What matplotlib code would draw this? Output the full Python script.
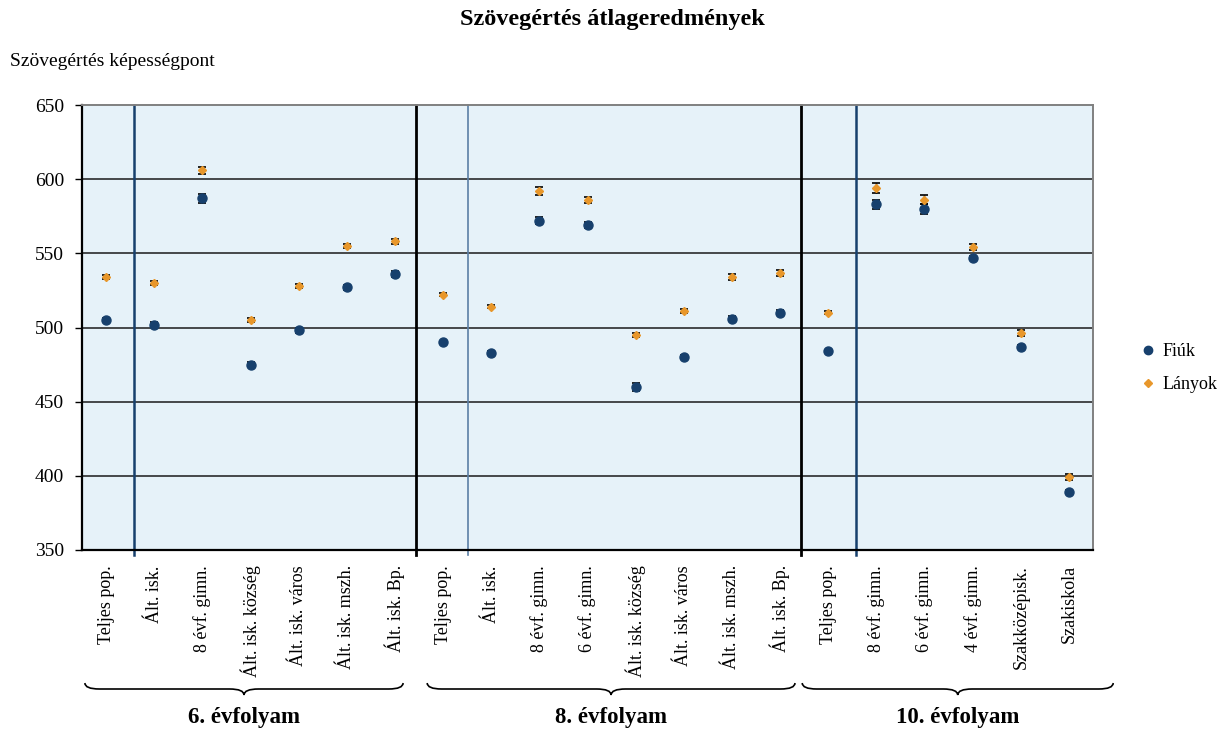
import numpy as np
import matplotlib.pyplot as plt
from matplotlib.path import Path
from matplotlib.patches import PathPatch
from matplotlib.lines import Line2D
import matplotlib.transforms as mtransforms

plt.rcParams['font.family'] = ['Liberation Serif', 'DejaVu Serif']

# Data
categories = [
    'Teljes pop.', 'Ált. isk.', '8 évf. gimn.', 'Ált. isk. község', 'Ált. isk. város',
    'Ált. isk. mszh.', 'Ált. isk. Bp.',
    'Teljes pop.', 'Ált. isk.', '8 évf. gimn.', '6 évf. gimn.', 'Ált. isk. község',
    'Ált. isk. város', 'Ált. isk. mszh.', 'Ált. isk. Bp.',
    'Teljes pop.', '8 évf. gimn.', '6 évf. gimn.', '4 évf. gimn.', 'Szakközépisk.', 'Szakiskola',
]
fiuk = [505, 502, 587, 475, 498, 527, 536,
        490, 483, 572, 569, 460, 480, 506, 510,
        484, 583, 580, 547, 487, 389]
lanyok = [534, 530, 606, 505, 528, 555, 558,
          522, 514, 592, 586, 495, 511, 534, 537,
          510, 594, 586, 554, 496, 399]
fiuk_err = [1.2, 1.5, 2.8, 1.5, 1.5, 1.5, 2.0,
            1.0, 1.0, 2.5, 2.0, 2.5, 1.5, 1.5, 1.5,
            1.0, 3.0, 3.5, 1.5, 1.5, 1.5]
lanyok_err = [1.2, 1.5, 2.5, 1.5, 1.5, 1.5, 2.0,
              1.0, 1.0, 2.5, 2.0, 1.5, 1.5, 2.0, 2.0,
              1.0, 3.5, 3.0, 2.0, 2.0, 2.0]

groups = ['6. évfolyam', '8. évfolyam', '10. évfolyam']
group_spans = [(-0.44, 6.17), (6.67, 14.31), (14.46, 20.92)]
sep_black = [6.44, 14.44]
sep_blue = [0.58, 15.57]
sep_thin = [7.51]

blue = '#17406D'
orange = '#E8972B'

x = np.arange(len(categories))

fig = plt.figure(figsize=(12.25, 7.3), dpi=100)
ax = fig.add_axes([82 / 1225, 1 - 550 / 730, (1093 - 82) / 1225, (550 - 105) / 730])
ax.set_facecolor('#E6F2F9')

ax.set_xlim(-0.5, 20.5)
ax.set_ylim(350, 650)
ax.set_yticks(np.arange(350, 651, 50))
for yv in range(400, 650, 50):
    ax.axhline(yv, color='#1a1a1a', lw=1.1, zorder=1)

for xv in sep_black:
    ax.axvline(xv, ymin=-0.012, ymax=1, color='black', lw=2, zorder=2, clip_on=False)
for xv in sep_blue:
    ax.axvline(xv, ymin=-0.012, ymax=1, color=blue, lw=1.8, zorder=2, clip_on=False)
for xv in sep_thin:
    ax.axvline(xv, ymin=-0.012, ymax=1, color='#5B7FA6', lw=1.2, zorder=2, clip_on=False)

ax.errorbar(x, fiuk, yerr=fiuk_err, fmt='none', ecolor='black', elinewidth=1,
            capsize=3, capthick=1.2, zorder=3)
ax.errorbar(x, lanyok, yerr=lanyok_err, fmt='none', ecolor='black', elinewidth=1,
            capsize=3, capthick=1.2, zorder=3)
ax.plot(x, fiuk, 'o', color=blue, markersize=6.5, linestyle='none', zorder=4, label='Fiúk')
ax.plot(x, lanyok, 'D', color=orange, markersize=4.2, linestyle='none', zorder=4, label='Lányok')

ax.set_xticks(x)
ax.set_xticklabels(categories, rotation=90, fontsize=13, va='top', ha='center')
ax.tick_params(axis='x', length=0, pad=11)
ax.tick_params(axis='y', length=5, width=1, labelsize=14, pad=8, color='black')

for side in ['left', 'bottom']:
    ax.spines[side].set_color('black')
    ax.spines[side].set_linewidth(1.6)
for side in ['top', 'right']:
    ax.spines[side].set_color('#808080')
    ax.spines[side].set_linewidth(1.4)

fig.text(0.5, 1 - 20 / 730, 'Szövegértés átlageredmények', ha='center', va='center',
         fontsize=17.5, fontweight='bold')
fig.text(10 / 1225, 1 - 62 / 730, 'Szövegértés képességpont', ha='left', va='center',
         fontsize=14)

# curly braces under the group labels
trans = mtransforms.blended_transform_factory(ax.transData, fig.transFigure)
y_top, y_line, y_tip = 1 - 683 / 730, 1 - 689 / 730, 1 - 695 / 730
r = 0.3
for name, (x0, x1) in zip(groups, group_spans):
    xm = (x0 + x1) / 2
    verts = [(x0, y_top), (x0, y_line), (x0 + r, y_line),
             (xm - r, y_line), (xm, y_line), (xm, y_tip),
             (xm, y_line), (xm + r, y_line),
             (x1 - r, y_line), (x1, y_line), (x1, y_top)]
    codes = [Path.MOVETO, Path.CURVE3, Path.CURVE3,
             Path.LINETO, Path.CURVE3, Path.CURVE3,
             Path.CURVE3, Path.CURVE3,
             Path.LINETO, Path.CURVE3, Path.CURVE3]
    patch = PathPatch(Path(verts, codes), facecolor='none', edgecolor='black', lw=1.2,
                      transform=trans, clip_on=False)
    fig.add_artist(patch)
    fig.text(xm, 1 - 718 / 730, name, transform=trans, ha='center', va='center',
             fontsize=16.5, fontweight='bold')

handles = [Line2D([], [], marker='o', color=blue, linestyle='none', markersize=6),
           Line2D([], [], marker='D', color=orange, linestyle='none', markersize=4)]
fig.legend(handles, ['Fiúk', 'Lányok'], loc='center left',
           bbox_to_anchor=(1141 / 1225, 1 - 368 / 730), frameon=False, fontsize=13,
           handletextpad=0.4, labelspacing=0.9, handlelength=0.8, borderpad=0,
           borderaxespad=0)

plt.savefig('out.png', dpi=100)
